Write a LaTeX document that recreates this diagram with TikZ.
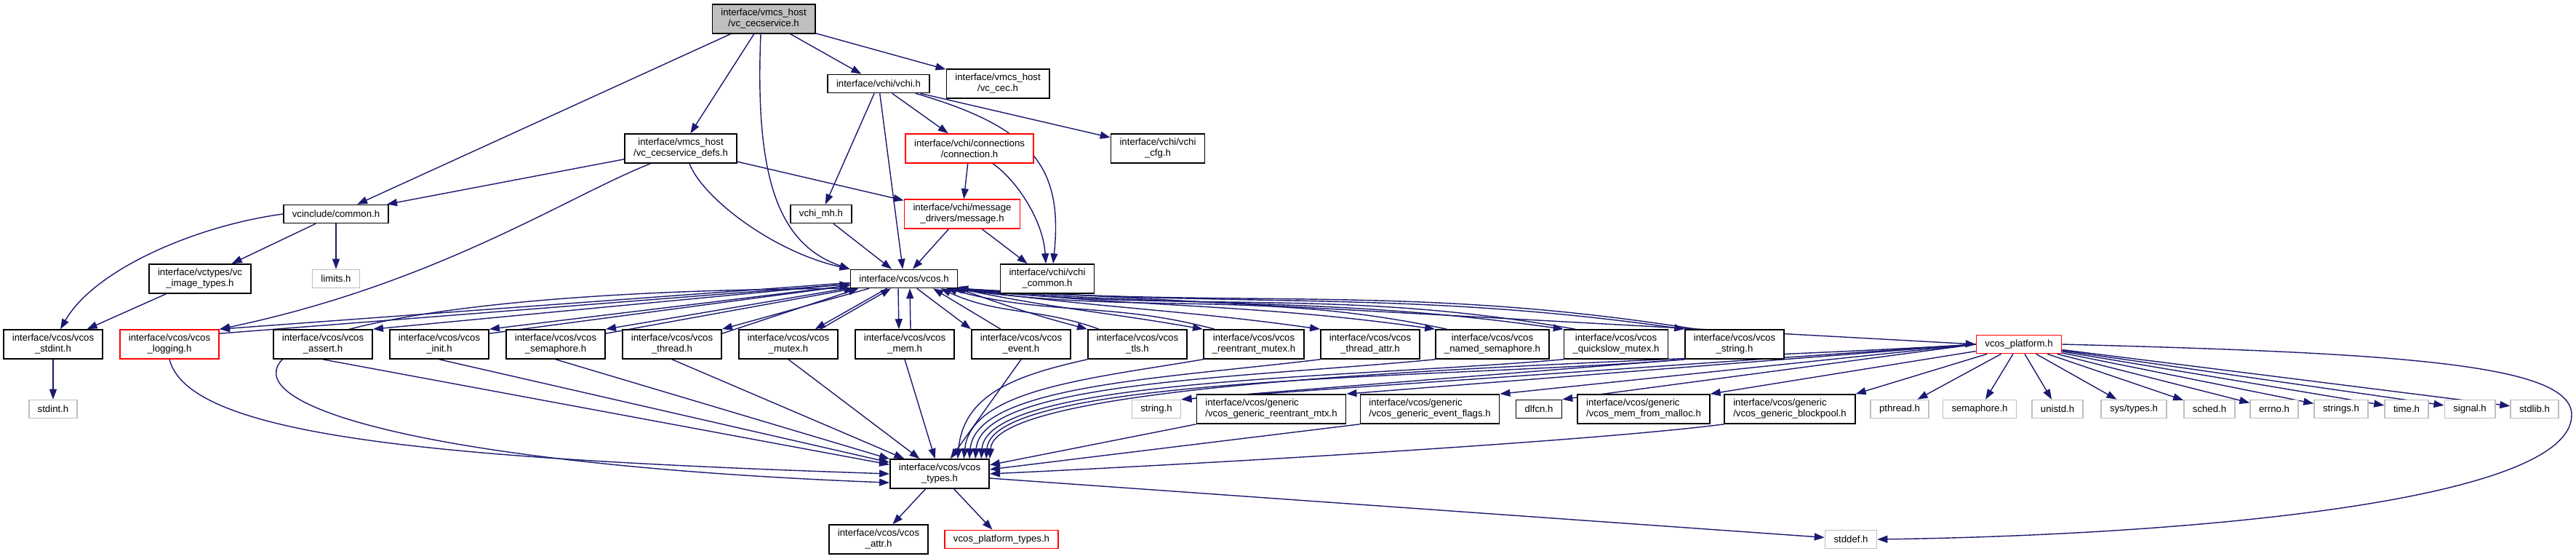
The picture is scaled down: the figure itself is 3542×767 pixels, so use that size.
\documentclass[tikz,border=0pt]{standalone}
\usepackage{fontspec}
\setmainfont{Liberation Sans}
\usetikzlibrary{arrows.meta}
\pgfdeclarelayer{edges}
\pgfsetlayers{edges,main}
\definecolor{edgeblue}{HTML}{191970}
\definecolor{grey75}{HTML}{BFBFBF}
\tikzset{
  file/.style={draw=black, line width=0.8pt, fill=white, align=center, font=\fontsize{6.6}{7.5}\selectfont, inner xsep=6pt, inner ysep=1pt, minimum height=12.5pt},
  tall/.style={minimum height=20pt},
  sysfile/.style={file, draw=grey75},
  cutfile/.style={file, draw=red},
  rootfile/.style={file, tall, fill=grey75},
  genfile/.style={file, tall, align=left},
  dep/.style={draw=edgeblue, line width=0.7pt, -{Triangle[length=7pt,width=5pt]}}
}
\begin{document}
\begin{tikzpicture}[x=0.5pt,y=0.5pt]
\useasboundingbox (0,0) rectangle (3542,-767);
% upper part
\node[rootfile] (cec) at (1050,-26) {interface/vmcs\_host\\/vc\_cecservice.h};
\node[file] (vchi) at (1208,-115) {interface/vchi/vchi.h};
\node[file, tall] (vccec) at (1372,-115) {interface/vmcs\_host\\/vc\_cec.h};
\node[file, tall] (defs) at (936,-204) {interface/vmcs\_host\\/vc\_cecservice\_defs.h};
\node[cutfile, tall] (conn) at (1333,-204) {interface/vchi/connections\\/connection.h};
\node[file, tall] (cfg) at (1592,-204) {interface/vchi/vchi\\\_cfg.h};
\node[file] (common) at (462,-294) {vcinclude/common.h};
\node[file] (mh) at (1129,-294) {vchi\_mh.h};
\node[cutfile, tall] (msg) at (1323,-294) {interface/vchi/message\\\_drivers/message.h};
\node[file, tall] (imgtypes) at (275,-383) {interface/vctypes/vc\\\_image\_types.h};
\node[sysfile] (limits) at (462,-383) {limits.h};
\node[file] (vcos) at (1243,-383) {interface/vcos/vcos.h};
\node[file, tall] (vchicommon) at (1440,-383) {interface/vchi/vchi\\\_common.h};
% vcos row
\node[file, tall] (stdint) at (73,-473) {interface/vcos/vcos\\\_stdint.h};
\node[cutfile, tall] (logging) at (233,-473) {interface/vcos/vcos\\\_logging.h};
\node[file, tall] (assert) at (444,-473) {interface/vcos/vcos\\\_assert.h};
\node[file, tall] (init) at (604,-473) {interface/vcos/vcos\\\_init.h};
\node[file, tall] (semaphore) at (764,-473) {interface/vcos/vcos\\\_semaphore.h};
\node[file, tall] (thread) at (924,-473) {interface/vcos/vcos\\\_thread.h};
\node[file, tall] (mutex) at (1084,-473) {interface/vcos/vcos\\\_mutex.h};
\node[file, tall] (mem) at (1244,-473) {interface/vcos/vcos\\\_mem.h};
\node[file, tall] (event) at (1404,-473) {interface/vcos/vcos\\\_event.h};
\node[file, tall] (tls) at (1564,-473) {interface/vcos/vcos\\\_tls.h};
\node[file, tall] (reentrant) at (1724,-473) {interface/vcos/vcos\\\_reentrant\_mutex.h};
\node[file, tall] (threadattr) at (1884,-473) {interface/vcos/vcos\\\_thread\_attr.h};
\node[file, tall] (namedsem) at (2052,-473) {interface/vcos/vcos\\\_named\_semaphore.h};
\node[file, tall] (quickslow) at (2222,-473) {interface/vcos/vcos\\\_quickslow\_mutex.h};
\node[file, tall] (vstring) at (2385,-473) {interface/vcos/vcos\\\_string.h};
\node[cutfile] (platform) at (2776,-473) {vcos\_platform.h};
% headers row
\node[sysfile] (stdinth) at (73,-562) {stdint.h};
\node[sysfile] (stringh) at (1590,-562) {string.h};
\node[genfile] (genreent) at (1748,-562) {interface/vcos/generic\\/vcos\_generic\_reentrant\_mtx.h};
\node[genfile] (evflags) at (1966,-562) {interface/vcos/generic\\/vcos\_generic\_event\_flags.h};
\node[file] (dlfcn) at (2116,-562) {dlfcn.h};
\node[genfile] (malloc) at (2260,-562) {interface/vcos/generic\\/vcos\_mem\_from\_malloc.h};
\node[genfile] (blockpool) at (2461,-562) {interface/vcos/generic\\/vcos\_generic\_blockpool.h};
\node[sysfile] (pthread) at (2612,-562) {pthread.h};
\node[sysfile] (semaphoreh) at (2722,-562) {semaphore.h};
\node[sysfile] (unistd) at (2829,-562) {unistd.h};
\node[sysfile] (systypes) at (2934,-562) {sys/types.h};
\node[sysfile] (sched) at (3038,-562) {sched.h};
\node[sysfile] (errno) at (3127,-562) {errno.h};
\node[sysfile] (strings) at (3219,-562) {strings.h};
\node[sysfile] (timeh) at (3309,-562) {time.h};
\node[sysfile] (signal) at (3396,-562) {signal.h};
\node[sysfile] (stdlib) at (3485,-562) {stdlib.h};
% bottom
\node[file, tall] (types) at (1292,-651) {interface/vcos/vcos\\\_types.h};
\node[file, tall] (attr) at (1208,-741) {interface/vcos/vcos\\\_attr.h};
\node[cutfile] (ptypes) at (1377,-741) {vcos\_platform\_types.h};
\node[sysfile] (stddef) at (2545,-741) {stddef.h};

\begin{pgfonlayer}{edges}
% root includes
\draw[dep] (cec) -- (common);
\draw[dep] (cec) -- (defs);
\draw[dep] ([xshift=-2pt]cec.south) .. controls (1038,-240) and (1068,-335) .. (vcos.north west);
\draw[dep] (cec) -- (vchi);
\draw[dep] (cec) -- (vccec);
\draw[dep] (vchi) -- (mh);
\draw[dep] (vchi) -- (vcos);
\draw[dep] (vchi) -- (conn);
\draw[dep] ([xshift=-10pt]vchi.south east) .. controls (1420,-175) and (1462,-230) .. ([xshift=4pt]vchicommon.north);
\draw[dep] (vchi) -- (cfg);
\draw[dep] (defs) -- (common);
\draw[dep] ([xshift=18pt]defs.south west) .. controls (780,-270) and (600,-390) .. (logging.north east);
\draw[dep] ([xshift=6pt]defs.south) .. controls (965,-270) and (1060,-345) .. (vcos.north west);
\draw[dep] (defs) -- (msg);
\draw[dep] (common.west) .. controls (270,-310) and (130,-370) .. ([xshift=5pt]stdint.north);
\draw[dep] (common) -- (imgtypes);
\draw[dep] (common) -- (limits);
\draw[dep] (imgtypes) -- (stdint);
\draw[dep] (stdint) -- (stdinth);
\draw[dep] (conn) -- (msg);
\draw[dep] ([xshift=16pt]conn.south) .. controls (1395,-245) and (1434,-300) .. ([xshift=-1pt]vchicommon.north);
\draw[dep] (msg) -- (vcos);
\draw[dep] (msg) -- (vchicommon);
\draw[dep] (mh) -- (vcos);

% vcos.h and back
\draw[dep] (vcos) -- (logging.north east);
\draw[dep] ([yshift=-3pt]logging.north east) -- ([yshift=3pt]vcos.south west);
\draw[dep] (vcos) -- (assert.north east);
\draw[dep] (vcos) -- (init.north east);
\draw[dep] ([yshift=-3pt]init.north east) -- ([yshift=2pt]vcos.south west);
\draw[dep] (vcos) -- (semaphore.north east);
\draw[dep] ([yshift=-3pt]semaphore.north east) -- ([xshift=3pt]vcos.south west);
\draw[dep] (vcos) -- (thread.north east);
\draw[dep] ([yshift=-3pt]thread.north east) -- ([xshift=6pt]vcos.south west);
\draw[dep] (vcos) -- (mutex);
\draw[dep] ([xshift=22pt]mutex.north) -- ([xshift=-9pt]vcos.south);
\draw[dep] ([xshift=-4pt]vcos.south) -- ([xshift=-4pt]mem.north);
\draw[dep] ([xshift=4pt]mem.north) -- ([xshift=4pt]vcos.south);
\draw[dep] (vcos) -- (event.north west);
\draw[dep] ([xshift=-14pt]event.north) -- ([xshift=20pt]vcos.south);
\draw[dep] (vcos.south east) to[out=-20, in=165] (tls.north west);
\draw[dep] ([xshift=8pt]tls.north west) to[out=160, in=-25] ([xshift=-12pt]vcos.south east);
\draw[dep] (vcos.south east) to[out=-12, in=170] (reentrant.north west);
\draw[dep] ([xshift=8pt]reentrant.north west) to[out=165, in=-15] ([xshift=-8pt]vcos.south east);
\draw[dep] (vcos.south east) to[out=-8, in=172] (threadattr.north west);
\draw[dep] (vcos.south east) to[out=-6, in=172] (namedsem.north west);
\draw[dep] ([xshift=8pt]namedsem.north west) to[out=168, in=-8] ([xshift=-4pt]vcos.south east);
\draw[dep] (vcos.south east) to[out=-5, in=172] (quickslow.north west);
\draw[dep] ([xshift=8pt]quickslow.north west) to[out=170, in=-6] ([xshift=-2pt]vcos.south east);
\draw[dep] (vcos.south east) to[out=-4, in=172] (vstring.north west);
\draw[dep] ([xshift=8pt]vstring.north west) to[out=171, in=-4] (vcos.south east);
\draw[dep] (vcos.south east) -- (platform.west);

% into vcos_types
\draw[dep] (logging.south) .. controls (260,-600) and (600,-630) .. (types.west);
\draw[dep] (vcos.south west) .. controls (100,-400) and (120,-620) .. (types.-170);
\draw[dep] (assert.south) -- (types);
\draw[dep] (init.south) -- (types);
\draw[dep] (semaphore.south) -- (types);
\draw[dep] (thread.south) -- (types);
\draw[dep] (mutex.south) -- (types);
\draw[dep] (mem.south) -- (types);
\draw[dep] (event.south) -- (types);
\draw[dep] (tls.south west) .. controls (1400,-515) and (1325,-540) .. (types.40);
\draw[dep] (reentrant.south west) .. controls (1500,-520) and (1335,-535) .. (types.32);
\draw[dep] (threadattr.south west) .. controls (1600,-520) and (1342,-530) .. (types.27);
\draw[dep] (namedsem.south west) .. controls (1700,-520) and (1350,-525) .. (types.23);
\draw[dep] (quickslow.south west) .. controls (1850,-520) and (1357,-520) .. (types.20);
\draw[dep] (vstring.south west) .. controls (2000,-520) and (1364,-515) .. (types.18);
\draw[dep] (platform.west) .. controls (2300,-500) and (1370,-510) .. (types.north east);
\draw[dep] (genreent.south west) -- (types.10);
\draw[dep] (evflags.south west) -- (types.5);
\draw[dep] (blockpool.south west) .. controls (2200,-605) and (1700,-635) .. (types.0);
\draw[dep] (vstring.south west) -- (stringh.north east);

% vcos_platform.h
\draw[dep] (platform.west) -- (stringh.north east);
\draw[dep] (platform.west) -- (genreent.north east);
\draw[dep] (platform.west) -- (evflags.north east);
\draw[dep] (platform.west) -- (dlfcn.north east);
\draw[dep] (platform) -- (malloc.north east);
\draw[dep] (platform) -- (blockpool.north east);
\draw[dep] (platform) -- (pthread);
\draw[dep] (platform) -- (semaphoreh);
\draw[dep] (platform) -- (unistd);
\draw[dep] (platform) -- (systypes);
\draw[dep] (platform) -- (sched);
\draw[dep] (platform) -- (errno);
\draw[dep] (platform) -- (strings);
\draw[dep] (platform) -- (timeh);
\draw[dep] (platform) -- (signal);
\draw[dep] (platform) -- (stdlib);
\draw[dep] (platform.east) .. controls (3300,-485) and (3536,-500) .. (3536,-570) .. controls (3536,-690) and (3000,-735) .. (stddef.east);

% vcos_types.h
\draw[dep] (types) -- (attr);
\draw[dep] (types) -- (ptypes);
\draw[dep] (types.-5) -- (stddef);
\end{pgfonlayer}
\end{tikzpicture}
\end{document}
